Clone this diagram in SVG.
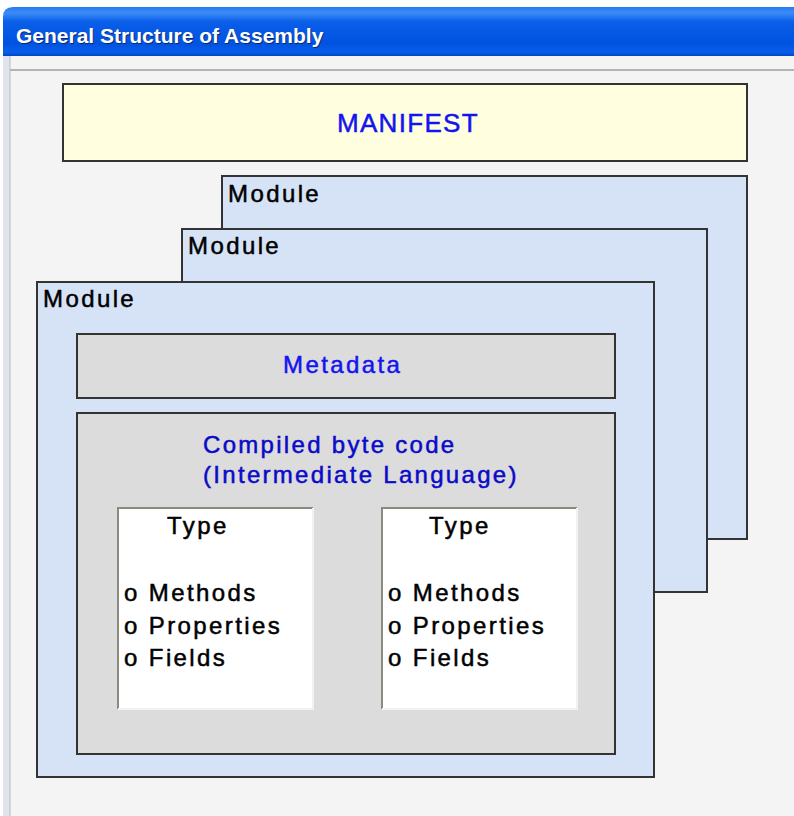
<svg xmlns="http://www.w3.org/2000/svg" width="794" height="816" viewBox="0 0 794 816">
<defs>
<linearGradient id="tb" x1="0" y1="0" x2="0" y2="1">
<stop offset="0" stop-color="#2a7af0"/>
<stop offset="0.12" stop-color="#3b8cf8"/>
<stop offset="0.3" stop-color="#0a5ee8"/>
<stop offset="0.75" stop-color="#0053e0"/>
<stop offset="0.92" stop-color="#0a5fea"/>
<stop offset="1" stop-color="#0044c8"/>
</linearGradient>
<style>
.box{stroke:#333;stroke-width:2}
.mod{fill:#d6e3f7}
.gray{fill:#dcdcdc}
.lbl{font-family:"Liberation Sans",Arial,sans-serif;font-size:24px;letter-spacing:2.4px;fill:#000;stroke:#000;stroke-width:0.5px}
.blue{font-family:"Liberation Sans",Arial,sans-serif;font-size:24px;letter-spacing:2.4px;fill:#1414f0;stroke:#1414f0;stroke-width:0.5px}
.dblue{font-family:"Liberation Sans",Arial,sans-serif;font-size:24px;letter-spacing:2.3px;fill:#0a0ac8;stroke:#0a0ac8;stroke-width:0.5px}
.title{font-family:"Liberation Sans",Arial,sans-serif;font-size:21px;font-weight:bold}
</style>
</defs>
<rect x="0" y="0" width="794" height="816" fill="#ffffff"/>
<rect x="3" y="56" width="791" height="760" fill="#f4f4f4"/>
<path d="M3,56 V17 Q3,7 13,7 H794 V56 Z" fill="url(#tb)"/>
<rect x="3" y="56" width="7" height="760" fill="#dfe4ec"/>
<line x1="10" y1="56" x2="10" y2="816" stroke="#b8bcc4" stroke-width="1"/>
<line x1="10" y1="70" x2="794" y2="70" stroke="#b4b4b4" stroke-width="2"/>
<text class="title" x="17" y="44" fill="#0a2a70">General Structure of Assembly</text>
<text class="title" x="16" y="43" fill="#ffffff">General Structure of Assembly</text>

<g id="manifest">
<rect class="box" x="63" y="84" width="684" height="77" fill="#ffffe0"/>
<text class="blue" x="337" y="132" style="font-size:26px;letter-spacing:1.3px">MANIFEST</text>
</g>

<g id="module3">
<rect class="box mod" x="222" y="176" width="525" height="363"/>
<text class="lbl" x="228" y="202">Module</text>
</g>

<g id="module2">
<rect class="box mod" x="182" y="229" width="525" height="363"/>
<text class="lbl" x="188" y="254">Module</text>
</g>

<g id="module1">
<rect class="box mod" x="37" y="282" width="617" height="495"/>
<text class="lbl" x="43" y="307">Module</text>
</g>

<g id="metadata">
<rect class="box gray" x="77" y="334" width="538" height="64"/>
<text class="blue" x="283" y="373">Metadata</text>
</g>

<g id="compiled">
<rect class="box gray" x="77" y="413" width="538" height="341"/>
<text class="dblue" x="203" y="453">Compiled byte code</text>
<text class="dblue" x="203" y="483">(Intermediate Language)</text>
</g>

<g id="type1">
<rect x="117" y="507" width="196" height="202" fill="#ffffff"/>
<path d="M118,709 V508 H313" fill="none" stroke="#8a8a80" stroke-width="2"/>
<path d="M313,508 V709 H118" fill="none" stroke="#f2f2ee" stroke-width="2"/>
<text class="lbl" x="167" y="534">Type</text>
<text class="lbl" x="124" y="601">o Methods</text>
<text class="lbl" x="124" y="634">o Properties</text>
<text class="lbl" x="124" y="666">o Fields</text>
</g>

<g id="type2">
<rect x="381" y="507" width="196" height="202" fill="#ffffff"/>
<path d="M382,709 V508 H577" fill="none" stroke="#8a8a80" stroke-width="2"/>
<path d="M577,508 V709 H382" fill="none" stroke="#f2f2ee" stroke-width="2"/>
<text class="lbl" x="429" y="534">Type</text>
<text class="lbl" x="388" y="601">o Methods</text>
<text class="lbl" x="388" y="634">o Properties</text>
<text class="lbl" x="388" y="666">o Fields</text>
</g>

<g id="connectors"></g>
</svg>
